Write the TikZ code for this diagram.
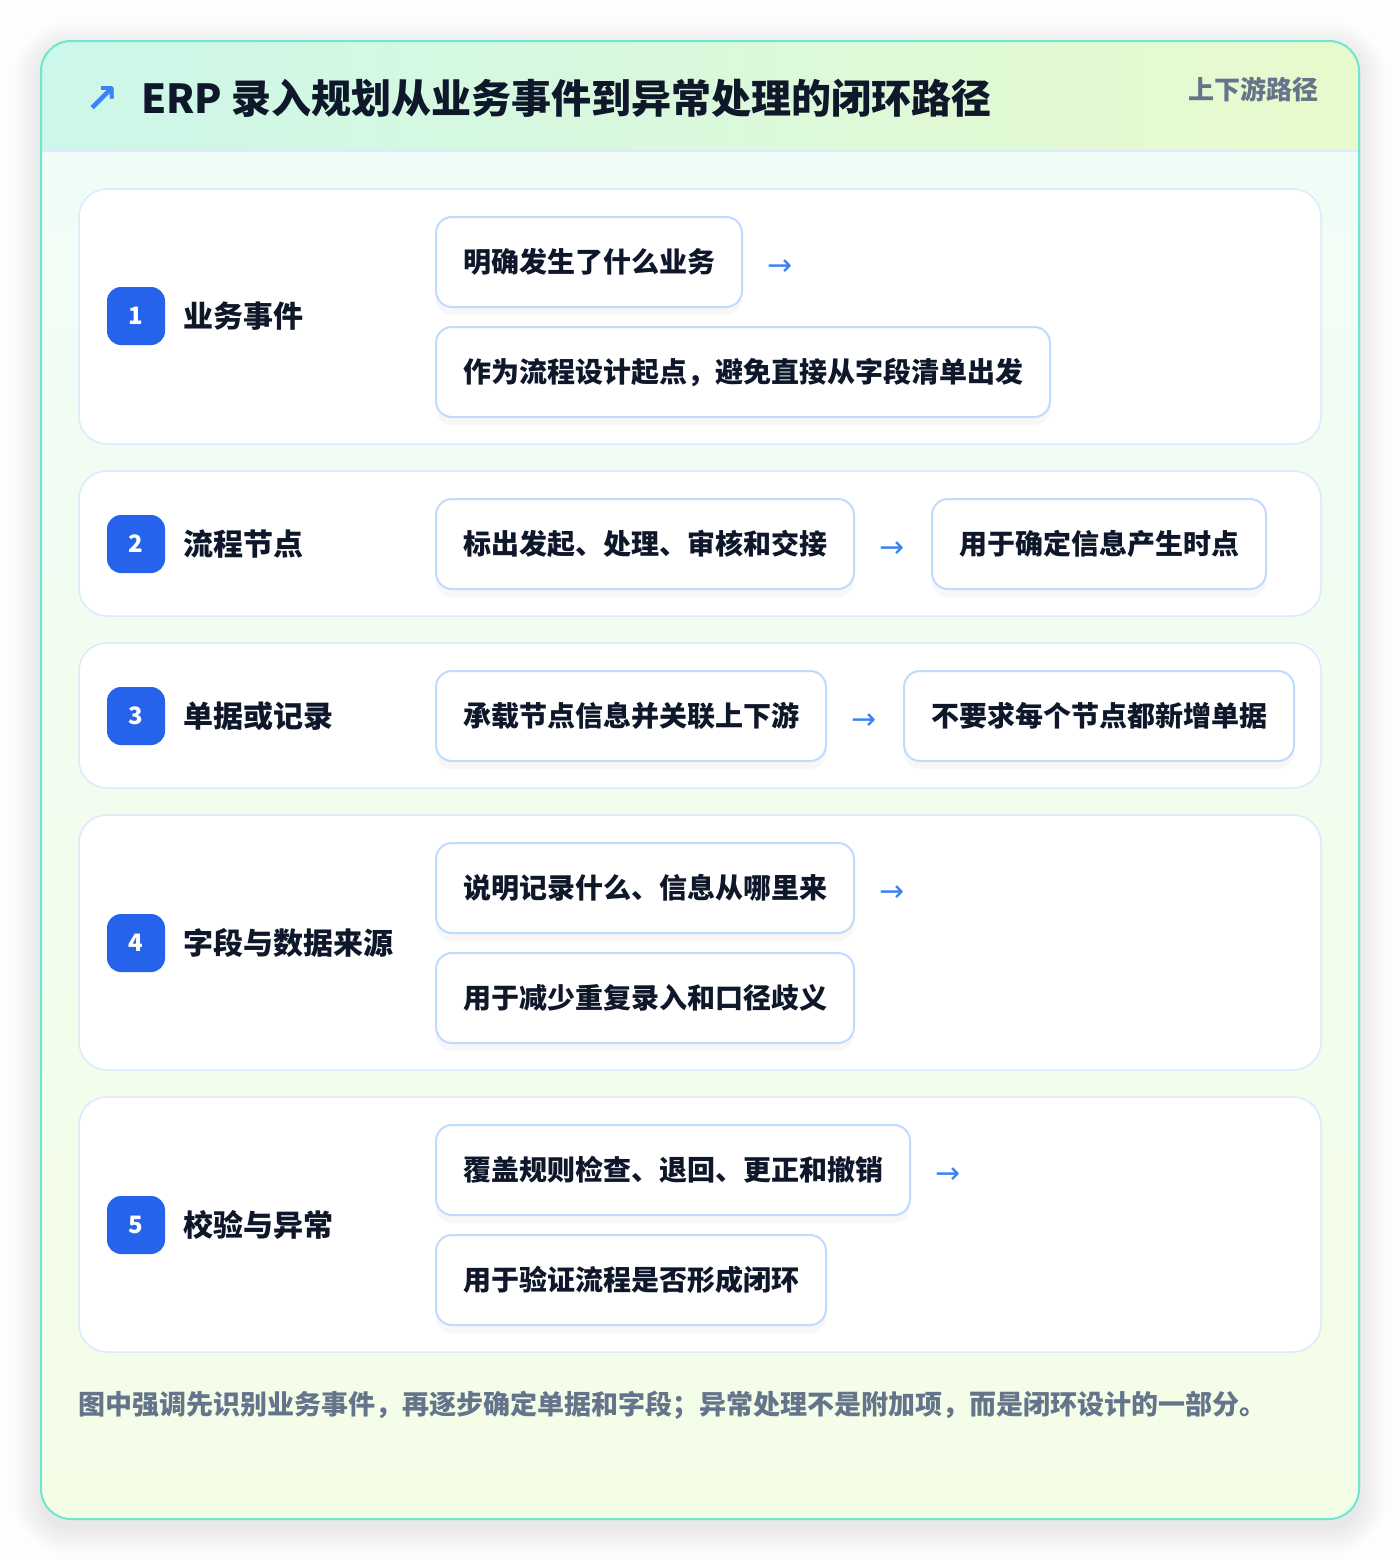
\documentclass[tikz,border=0pt]{standalone}
\usepackage{fontspec}
\setmainfont{Noto Sans CJK SC}
\newfontfamily\symfont{DejaVu Sans}
\usetikzlibrary{positioning}

\definecolor{pagebg}{RGB}{253,253,253}
\definecolor{cardline}{RGB}{110,231,208}
\definecolor{headleft}{RGB}{204,247,234}
\definecolor{headright}{RGB}{232,250,205}
\definecolor{bodytop}{RGB}{240,253,248}
\definecolor{bodybottom}{RGB}{244,253,230}
\definecolor{headrule}{RGB}{219,234,254}
\definecolor{panelline}{RGB}{219,234,254}
\definecolor{boxline}{RGB}{191,219,254}
\definecolor{badgeblue}{RGB}{37,99,235}
\definecolor{arrowblue}{RGB}{59,130,246}
\definecolor{ink}{RGB}{15,23,42}
\definecolor{slate}{RGB}{100,116,139}

\begin{document}
\begin{tikzpicture}[x=0.5pt,y=-0.5pt,
    panel/.style={draw=panelline, line width=0.75pt, fill=white, rounded corners=14pt},
    box/.style={draw=boxline, line width=1pt, fill=white, rounded corners=8pt, anchor=west,
        inner xsep=13.5pt, minimum height=45pt, text=ink, font=\fontsize{14}{16}\selectfont\bfseries,
        preaction={fill=black, fill opacity=0.03, draw=none, transform canvas={yshift=-4pt}}},
    badge/.style={fill=badgeblue, rounded corners=7pt, minimum size=29pt, inner sep=0pt,
        text=white, font=\fontsize{12}{14}\selectfont\bfseries},
    steplabel/.style={anchor=west, text=ink, font=\fontsize{15}{18}\selectfont\bfseries},
    flow/.style={text=arrowblue, inner sep=0pt, yshift=-3pt, font=\symfont\fontsize{15}{15}\selectfont}
]
    % Page and card
    \fill[pagebg] (0,0) rectangle (1400,1560);
    \foreach \g in {2,6,10,14,18,22,26}
        \fill[black, opacity=0.012, rounded corners=15pt+\g*0.5pt]
            (41-\g,49-\g) rectangle (1359+\g,1527+\g);
    \path[rounded corners=15pt, top color=bodytop, bottom color=bodybottom]
        (41,41) rectangle (1359,1519);
    \begin{scope}
        \clip[rounded corners=15pt] (41,41) rectangle (1359,1519);
        \path[left color=headleft, right color=headright] (41,41) rectangle (1359,151);
    \end{scope}
    \draw[headrule, line width=1pt] (42,151) -- (1358,151);
    \draw[cardline, line width=1pt, rounded corners=15pt] (41,41) rectangle (1359,1519);

    % Header
    \node[text=arrowblue, font=\symfont\fontsize{20}{20}\selectfont\bfseries] (icon) at (102,99) {↗};
    \node[anchor=west, text=ink, font=\fontsize{20}{24}\selectfont\bfseries] (title) at (134,98)
        {ERP 录入规划从业务事件到异常处理的闭环路径};
    \node[anchor=east, text=slate, font=\fontsize{13}{16}\selectfont\bfseries] (tag) at (1326,89) {上下游路径};

    % Row panels
    \path[panel] (79,189) rectangle (1321,444);
    \path[panel] (79,471) rectangle (1321,616);
    \path[panel] (79,643) rectangle (1321,788);
    \path[panel] (79,815) rectangle (1321,1070);
    \path[panel] (79,1097) rectangle (1321,1352);

    % Step 1
    \node[badge] (n1) at (136,316) {1};
    \node[steplabel] (l1) at (176,316) {业务事件};
    \node[box] (b1a) at (435,262) {明确发生了什么业务};
    \node[flow, right=12pt of b1a] (t1) {→};
    \node[box] (b1b) at (435,372) {作为流程设计起点，避免直接从字段清单出发};

    % Step 2
    \node[badge] (n2) at (136,544) {2};
    \node[steplabel] (l2) at (176,544) {流程节点};
    \node[box] (b2a) at (435,544) {标出发起、处理、审核和交接};
    \node[flow, right=12pt of b2a] (t2) {→};
    \node[box, right=38pt of b2a] (b2b) {用于确定信息产生时点};

    % Step 3
    \node[badge] (n3) at (136,716) {3};
    \node[steplabel] (l3) at (176,716) {单据或记录};
    \node[box] (b3a) at (435,716) {承载节点信息并关联上下游};
    \node[flow, right=12pt of b3a] (t3) {→};
    \node[box, right=38pt of b3a] (b3b) {不要求每个节点都新增单据};

    % Step 4
    \node[badge] (n4) at (136,943) {4};
    \node[steplabel] (l4) at (176,943) {字段与数据来源};
    \node[box] (b4a) at (435,888) {说明记录什么、信息从哪里来};
    \node[flow, right=12pt of b4a] (t4) {→};
    \node[box] (b4b) at (435,998) {用于减少重复录入和口径歧义};

    % Step 5
    \node[badge] (n5) at (136,1225) {5};
    \node[steplabel] (l5) at (176,1225) {校验与异常};
    \node[box] (b5a) at (435,1170) {覆盖规则检查、退回、更正和撤销};
    \node[flow, right=12pt of b5a] (t5) {→};
    \node[box] (b5b) at (435,1280) {用于验证流程是否形成闭环};

    % Footer note
    \node[anchor=west, text=slate, font=\fontsize{13.5}{16}\selectfont\bfseries] (note) at (71,1405)
        {图中强调先识别业务事件，再逐步确定单据和字段；异常处理不是附加项，而是闭环设计的一部分。};
\end{tikzpicture}
\end{document}
